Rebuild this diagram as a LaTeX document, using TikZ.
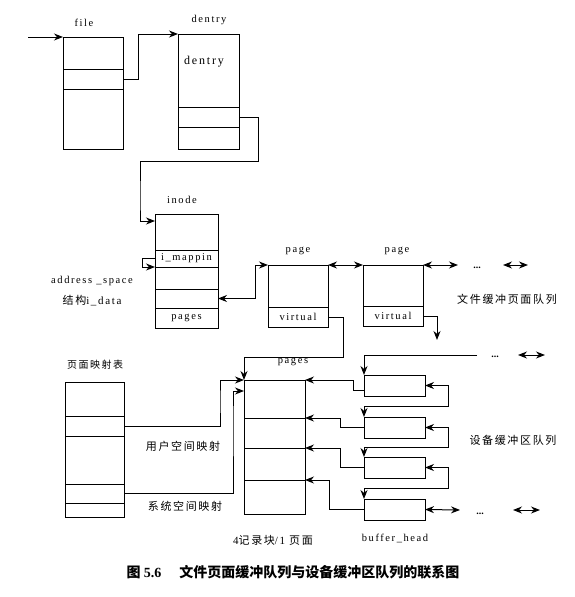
\documentclass[tikz,border=0pt]{standalone}
\usepackage{fontspec}
\setmainfont{Liberation Serif}
\newfontfamily\labfont[LetterSpace=15]{Liberation Serif}
\newfontfamily\cjk[LetterSpace=15]{Noto Sans CJK SC}
\newfontfamily\cjkcap{Noto Sans CJK SC}
\usetikzlibrary{arrows.meta,shapes,positioning}

\tikzset{
  cell/.style={rectangle, draw, inner sep=0pt, outer sep=0pt, minimum width=#1},
  cell/.default=61,
  lab/.style={font=\labfont\fontsize{10.5}{12}\selectfont},
  zh/.style={font=\cjk\fontsize{11}{13}\selectfont},
  arr/.style={-{Stealth[length=9pt,width=7pt]}},
  darr/.style={{Stealth[length=9pt,width=7pt]}-{Stealth[length=9pt,width=7pt]}},
}

\begin{document}
\begin{tikzpicture}[x=1pt, y=-1pt, line width=1pt, node distance=0pt]
  \useasboundingbox (0,0) rectangle (575,597);

  % file
  \node (f1) [cell=60, anchor=north west, minimum height=32] at (63,37) {};
  \node (f2) [cell=60, below=of f1, minimum height=20] {};
  \node (f3) [cell=60, below=of f2, minimum height=60] {};
  \node (filelab) [lab] at (84,23) {file};
  \coordinate (fin) at (28,37);

  % dentry
  \node (d1) [cell, anchor=north west, minimum height=73] at (178,34) {};
  \node (d2) [cell, below=of d1, minimum height=20] {};
  \node (d3) [cell, below=of d2, minimum height=22] {};
  \node (dentrylab) [lab] at (209,20) {dentry};
  \node (dentrytxt) [font=\labfont\fontsize{12}{14}\selectfont] at (204,62) {dentry};

  % inode
  \node (i1) [cell=63, anchor=north west, minimum height=36] at (155,214) {};
  \node (i2) [cell=63, below=of i1, minimum height=17, lab] {i\_mappin};
  \node (i3) [cell=63, below=of i2, minimum height=22] {};
  \node (i4) [cell=63, below=of i3, minimum height=19] {};
  \node (i5) [cell=63, below=of i4, minimum height=20, lab] {pages};
  \node (inodelab) [lab] at (182,200) {inode};
  \node (aspace) [lab] at (92,281) {address \_space};
  \node (idata) [zh] at (92,301) {结构{\labfont i\_data}};

  % page queue
  \node (pa1) [cell=60, anchor=north west, minimum height=42] at (268,265) {};
  \node (pa2) [cell=60, below=of pa1, minimum height=20, lab] {virtual};
  \node (pb1) [cell=60, anchor=north west, minimum height=41] at (363,265) {};
  \node (pb2) [cell=60, below=of pb1, minimum height=20, lab] {virtual};
  \node (palab) [lab] at (298,251) {page};
  \node (pblab) [lab] at (397,251) {page};
  \node (dots1) [lab, font=\bfseries, anchor=base] at (477,268) {...};
  \coordinate (pbout) at (458,265);
  \coordinate (lr1a) at (503,265);
  \coordinate (lr1b) at (528,265);
  \coordinate (vdown) at (437,340);
  \node (fileq) [zh] at (507,299) {文件缓冲页面队列};

  % pages
  \node (pg1) [cell, anchor=north west, minimum height=38] at (244,380) {};
  \node (pg2) [cell, below=of pg1, minimum height=30] {};
  \node (pg3) [cell, below=of pg2, minimum height=32] {};
  \node (pg4) [cell, below=of pg3, minimum height=34] {};
  \node (pageslab) [lab] at (293,362) {pages};
  \node (blocks) [zh] at (273,540) {{\labfont 4}记录块{\labfont /1} 页面};

  % page table
  \node (t1) [cell=59, anchor=north west, minimum height=34] at (65,382) {};
  \node (t2) [cell=59, below=of t1, minimum height=20] {};
  \node (t3) [cell=59, below=of t2, minimum height=48] {};
  \node (t4) [cell=59, below=of t3, minimum height=19] {};
  \node (t5) [cell=59, below=of t4, minimum height=14] {};
  \node (tablelab) [font=\cjk\fontsize{10}{12}\selectfont] at (95,365) {页面映射表};
  \node (usermap) [zh] at (183,446) {用户空间映射};
  \node (sysmap) [zh] at (185,506) {系统空间映射};

  % buffer heads
  \node (bh1) [cell, anchor=north west, minimum height=21] at (364,375) {};
  \node (bh2) [cell, anchor=north west, minimum height=21] at (364,417) {};
  \node (bh3) [cell, anchor=north west, minimum height=21] at (364,457) {};
  \node (bh4) [cell, anchor=north west, minimum height=21] at (364,499) {};
  \node (bhlab) [lab] at (395,538) {buffer\_head};
  \node (devq) [zh] at (513,440) {设备缓冲区队列};
  \coordinate (bhin) at (477,355);
  \node (dots2) [lab, font=\bfseries, anchor=base] at (495,357) {...};
  \coordinate (lr2a) at (518,355);
  \coordinate (lr2b) at (545,355);
  \coordinate (bhout) at (460,510);
  \node (dots3) [lab, font=\bfseries, anchor=base] at (480,514) {...};
  \coordinate (lr3a) at (513,510);
  \coordinate (lr3b) at (540,510);

  % connectors
  \draw [arr] (fin) -- (f1.north west);
  \draw [arr] (f2.east) -- ++(15,0) |- (d1.north west);
  \draw [arr] (d2.east) -| (258,161) -| (140,200) |- ([yshift=11pt]i1.west);
  \draw [arr] (i2.west) -- ++(-13,0) |- (i2.south west);
  \draw [darr] (i4.east) -- ++(37,0) |- (pa1.north west);
  \draw [darr] (pa1.north east) -- (pb1.north west);
  \draw [darr] (pb1.north east) -- (pbout);
  \draw [darr] (lr1a) -- (lr1b);
  \draw [arr] (pb2.east) -| (vdown);
  \draw [arr] (pa2.east) -| (343,357) -| (pg1.north west);
  \draw [arr] (t2.east) -| (220,400) |- (pg1.north west);
  \draw [arr] (t4.east) -| (233,420) |- ([yshift=-11pt]pg1.north west);
  \draw [arr] (bhin) -| (bh1.north west);
  \draw [darr] (lr2a) -- (lr2b);
  \draw [darr] (bh1.east) -- ++(23,0) -- ++(0,21) -| (bh2.north west);
  \draw [darr] (bh2.east) -- ++(23,0) -- ++(0,20) -| (bh3.north west);
  \draw [darr] (bh3.east) -- ++(23,0) -- ++(0,21) -| (bh4.north west);
  \draw [darr] (bh4.east) -- (bhout);
  \draw [darr] (lr3a) -- (lr3b);
  \draw [arr] ([yshift=-5pt]bh1.west) -- ++(-11,0) |- (pg1.north east);
  \draw [arr] (bh2.west) -- ++(-24,0) |- (pg2.north east);
  \draw [arr] (bh3.west) -- ++(-24,0) |- (pg3.north east);
  \draw [arr] (bh4.west) -- ++(-35,0) |- (pg4.north east);

  % caption
  \node (caption) at (293,572) {\cjkcap\bfseries\fontsize{14}{16}\selectfont 图 {\rmfamily 5.6}\hspace{1.3em}文件页面缓冲队列与设备缓冲区队列的联系图};
\end{tikzpicture}
\end{document}
